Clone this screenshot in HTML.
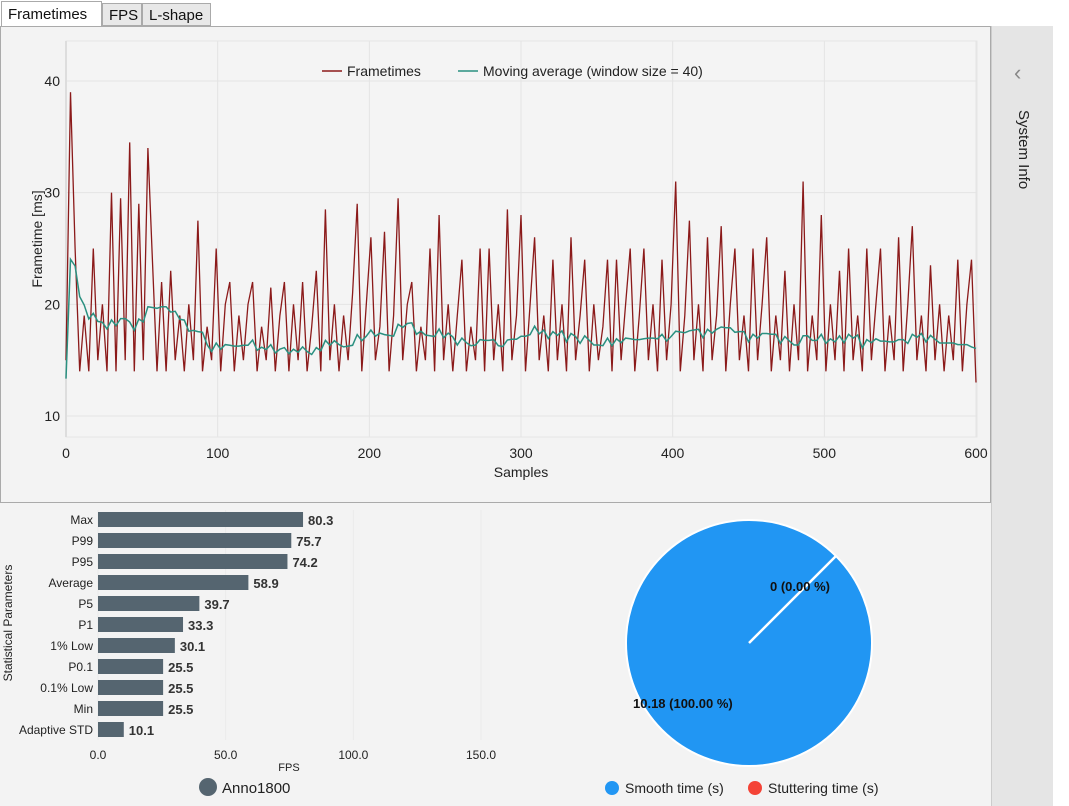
<!DOCTYPE html>
<html><head><meta charset="utf-8"><style>
body{margin:0;width:1069px;height:806px;background:#fff;font-family:"Liberation Sans",sans-serif;overflow:hidden;position:relative}
.tab{position:absolute;top:3px;height:23px;border:1px solid #aaa;background:#e8e8e8;font-size:15px;line-height:23px;padding:0 6px;box-sizing:border-box;color:#111}
</style></head><body>
<div class="tab" style="left:1px;top:1px;height:26px;background:#fff;border-bottom:none;width:101px;line-height:26px">Frametimes</div>
<div class="tab" style="left:102px;width:40px">FPS</div>
<div class="tab" style="left:142px;width:69px">L-shape</div>
<div style="position:absolute;left:0;top:26px;width:991px;height:477px;border:1px solid #aaa;box-sizing:border-box;background:#f3f3f3"></div>
<div style="position:absolute;left:0;top:503px;width:991px;height:303px;background:#f3f3f3"></div>
<div style="position:absolute;left:991px;top:26px;width:61px;height:780px;background:#e5e5e5;border-left:1px solid #ccc">
<div style="position:absolute;left:22px;top:34px;color:#888;font-size:22px">&#8249;</div>
<div style="position:absolute;left:40px;top:84px;transform:rotate(90deg);transform-origin:0 0;font-size:15px;color:#222;white-space:nowrap">System Info</div>
</div>
<svg id="main" width="1069" height="806" style="position:absolute;left:0;top:0" font-family="Liberation Sans, sans-serif"></svg>
<script>
const frametimes=[15,39,25,14,19,14,25,15,20,14,
30,14,29.5,15,34.5,14,29,15,34,24,
14,22,14,23,15,19,14,20,15,27.5,
14,18,15,25,14,20,22,14,19,15,
20,22,14,18,15,21.5,14,19,22,14,
20,15,22,14,18,23,14,28.5,15,20,
14,19,15,21,29,14,20,26,15,18,
26.5,14,19,29.5,15,20,22,14,18,15,
25,14,28,15,20,14,19,24,14,18,
15,25,14,25,15,20,14,28.5,15,19,
28,14,20,26,15,19,14,24,15,20,
14,26,15,19,24,14,20,15,18,24,
14,24,15,20,25,14,19,25,15,20,
14,24,15,20,31,14,19,27.5,15,20,
14,26,15,19,27,14,20,25,15,19,
14,25,15,20,26,14,19,15,23,14,
20,15,31,14,19,15,28,14,20,15,
23,14,25,15,19,14,25,15,20,25,
14,19,15,26,14,20,27,15,19,14,
23.5,15,20,14,19,15,24,14,20,24,13];
const sampleStep=3;
const xTicks=[0,100,200,300,400,500,600];
const yTicks=[10,20,30,40];
const statLabels=["Max","P99","P95","Average","P5","P1","1% Low","P0.1","0.1% Low","Min","Adaptive STD"];
const statValues=[80.3,75.7,74.2,58.9,39.7,33.3,30.1,25.5,25.5,25.5,10.1];
const fpsTicks=[0,50,100,150];
const pieValues=[10.18,0];
const pieLabels=["10.18 (100.00 %)","0 (0.00 %)"];

const svg=document.getElementById('main');const NS='http://www.w3.org/2000/svg';
function mk(t,a,p){const e=document.createElementNS(NS,t);for(const k in a)e.setAttribute(k,a[k]);(p||svg).appendChild(e);return e;}
const X=s=>66+s*(976-66)/600, Y=v=>416-(v-10)*(416-81)/30;
mk('rect',{x:66,y:41,width:911,height:396,fill:'#f4f4f4',stroke:'#e6e6e6'});
xTicks.forEach(t=>{const l=mk('line',{x1:X(t),x2:X(t),y1:41,y2:437,stroke:'#e4e4e4'});

const tx=mk('text',{x:X(t),y:458,'text-anchor':'middle','font-size':14,fill:'#222'});tx.textContent=t;
});
yTicks.forEach(t=>{const l=mk('line',{x1:66,x2:977,y1:Y(t),y2:Y(t),stroke:'#e4e4e4'});

const tx=mk('text',{x:60,y:Y(t)+5,'text-anchor':'end','font-size':14,fill:'#222'});tx.textContent=t;
});
mk('line',{x1:66,x2:66,y1:41,y2:437,stroke:'#ddd','stroke-width':2});
let t1=mk('text',{x:521,y:477,'text-anchor':'middle','font-size':14,fill:'#222'});t1.textContent='Samples';

let t2=mk('text',{x:42,y:239,'text-anchor':'middle','font-size':14,fill:'#222',transform:'rotate(-90 42 239)'});t2.textContent='Frametime [ms]';

let d=frametimes.map((v,i)=>(i?'L':'M')+X(i*sampleStep).toFixed(1)+','+Y(v).toFixed(1)).join('');
let fl=mk('path',{d:d,fill:'none',stroke:'#8b1a1a','stroke-width':1.3});

const w=Math.round(40/sampleStep);let md='';
frametimes.forEach((v,i)=>{const s=frametimes.slice(Math.max(0,i-w+1),i+1);const m=s.reduce((a,b)=>a+b,0)/s.length*0.89;md+=(i?'L':'M')+X(i*sampleStep).toFixed(1)+','+Y(m).toFixed(1);});
let ml=mk('path',{d:md,fill:'none',stroke:'#2a9080','stroke-width':1.5});

let lg=mk('g',{});
mk('line',{x1:322,x2:342,y1:71,y2:71,stroke:'#8b1a1a','stroke-width':1.5},lg);
let a=mk('text',{x:347,y:76,'font-size':14,fill:'#222'},lg);a.textContent='Frametimes';
mk('line',{x1:458,x2:478,y1:71,y2:71,stroke:'#2a9080','stroke-width':1.5},lg);
a=mk('text',{x:483,y:76,'font-size':14,fill:'#222'},lg);a.textContent='Moving average (window size = 40)';
const BX=v=>98+v*(481-98)/150;
fpsTicks.forEach(t=>{const l=mk('line',{x1:BX(t),x2:BX(t),y1:510,y2:740,stroke:'#ebebeb'});

const tx=mk('text',{x:BX(t),y:759,'text-anchor':'middle','font-size':12,fill:'#222'});tx.textContent=t.toFixed(1);
});
statLabels.forEach((lab,i)=>{const cy=520+i*21;
const r=mk('rect',{x:98,y:cy-8,width:BX(statValues[i])-98,height:15,fill:'#556570'});

const tl=mk('text',{x:93,y:cy+4,'text-anchor':'end','font-size':12,fill:'#222'});tl.textContent=lab;

const tv=mk('text',{x:BX(statValues[i])+5,y:cy+5,'font-size':13,'font-weight':'bold',fill:'#333'});tv.textContent=statValues[i].toFixed(1);
});
a=mk('text',{x:12,y:623,'text-anchor':'middle','font-size':12,fill:'#222',transform:'rotate(-90 12 623)'});a.textContent='Statistical Parameters';

a=mk('text',{x:289,y:771,'text-anchor':'middle','font-size':11,fill:'#222'});a.textContent='FPS';

a=mk('circle',{cx:208,cy:787,r:9,fill:'#556570'});
a=mk('text',{x:222,y:793,'font-size':15,fill:'#222'});a.textContent='Anno1800';
const cx=749,cy=643,R=123,tot=pieValues.reduce((a,b)=>a+b,0);let ang=-45*Math.PI/180;
const cols=['#2196f3','#f44336'];
pieValues.forEach((v,i)=>{const sw=v/tot*2*Math.PI;let e;
if(sw>=2*Math.PI-1e-6)e=mk('circle',{cx:cx,cy:cy,r:R,fill:cols[i],stroke:'#fff','stroke-width':2});
else if(sw>0){const x1=cx+R*Math.cos(ang),y1=cy+R*Math.sin(ang),x2=cx+R*Math.cos(ang+sw),y2=cy+R*Math.sin(ang+sw);
e=mk('path',{d:`M${cx},${cy}L${x1},${y1}A${R},${R} 0 ${sw>Math.PI?1:0} 1 ${x2},${y2}Z`,fill:cols[i],stroke:'#fff','stroke-width':2});}
if(e){}
ang+=sw;});
a=mk('line',{x1:cx,y1:cy,x2:cx+R*Math.cos(-45*Math.PI/180),y2:cy+R*Math.sin(-45*Math.PI/180),stroke:'#fff','stroke-width':2.5});

a=mk('text',{x:633,y:708,'font-size':13,'font-weight':'bold',fill:'#111'});a.textContent=pieLabels[0];
a=mk('text',{x:770,y:591,'font-size':13,'font-weight':'bold',fill:'#111'});a.textContent=pieLabels[1];
a=mk('circle',{cx:612,cy:788,r:7,fill:'#2196f3'});
a=mk('text',{x:625,y:793,'font-size':14,fill:'#222'});a.textContent='Smooth time (s)';
a=mk('circle',{cx:755,cy:788,r:7,fill:'#f44336'});
a=mk('text',{x:768,y:793,'font-size':14,fill:'#222'});a.textContent='Stuttering time (s)';
</script>
</body></html>
